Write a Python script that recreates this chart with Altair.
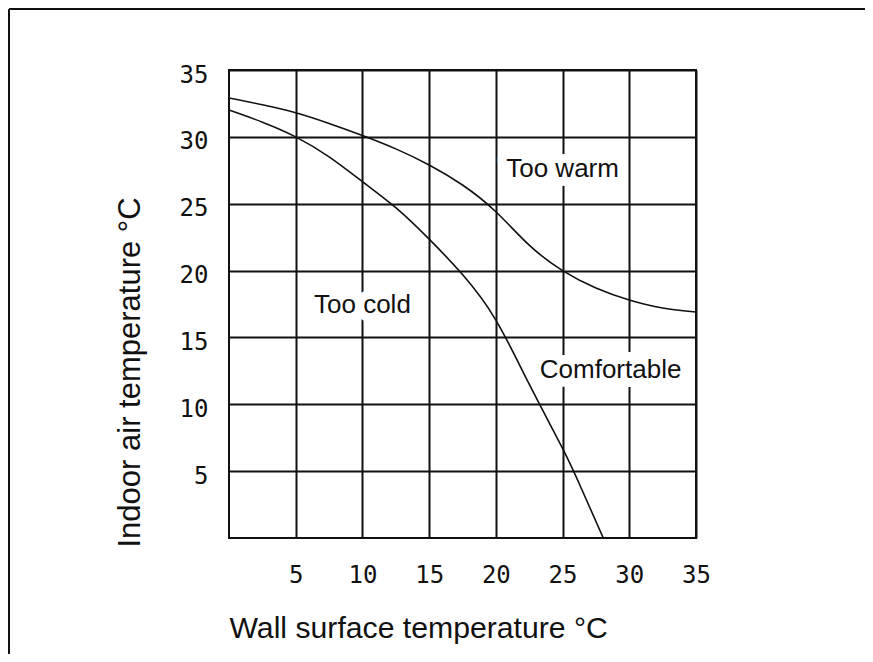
import altair as alt
import pandas as pd

# Boundary curves
wall_upper = [0, 2.5, 5, 7.5, 10, 12.5, 15, 17.5, 20, 22.5, 25, 27.5, 30, 32.5, 35]
air_upper = [32.9, 32.4, 31.8, 31.0, 30.1, 29.1, 27.9, 26.4, 24.4, 21.9, 20.0, 18.7, 17.8, 17.2, 16.9]

wall_lower = [0, 2.5, 5, 7.5, 10, 12.5, 15, 17.5, 20, 22.5, 25, 26.5, 28.05]
air_lower = [32.0, 31.1, 30.0, 28.5, 26.65, 24.7, 22.35, 19.7, 16.3, 11.5, 6.7, 3.5, 0.0]

label_text = ["Too warm", "Too cold", "Comfortable"]
label_x = [25.0, 10.0, 28.6]
label_y = [27.6, 17.4, 12.6]

tick_values = [5, 10, 15, 20, 25, 30, 35]

W, H = 467, 468
PAD = {"left": 221, "top": 62, "right": 169, "bottom": 116}

df_curves = pd.concat([
    pd.DataFrame({"wall": wall_upper, "air": air_upper, "curve": "upper"}),
    pd.DataFrame({"wall": wall_lower, "air": air_lower, "curve": "lower"}),
])
df_labels = pd.DataFrame({"x": label_x, "y": label_y, "t": label_text})

xscale = alt.Scale(domain=[0, 35], nice=False, zero=False)
yscale = alt.Scale(domain=[0, 35], nice=False, zero=False)

x_axis = alt.Axis(
    values=tick_values, grid=True, gridColor="#111", gridWidth=2, gridOpacity=1,
    ticks=False, domain=False,
    labelFont="DejaVu Sans Mono", labelFontSize=24, labelColor="#111",
    labelBaseline="alphabetic", labelPadding=44, labelFlush=False,
    title="Wall surface temperature °C", titleFont="Liberation Sans",
    titleFontSize=30.2, titleFontWeight="normal", titleColor="#111",
    titleAnchor="start", titleAlign="left", titleX=0, titleY=99,
    titleBaseline="alphabetic",
)
y_axis = alt.Axis(
    values=tick_values, grid=True, gridColor="#111", gridWidth=2, gridOpacity=1,
    ticks=False, domain=False,
    labelFont="DejaVu Sans Mono", labelFontSize=24, labelColor="#111",
    labelPadding=21, labelOffset=5, labelFlush=False,
    title="Indoor air temperature °C", titleFont="Liberation Sans",
    titleFontSize=31, titleFontWeight="normal", titleColor="#111",
    titleAnchor="start", titleAlign="left", titleAngle=270,
    titleX=-90, titleY=477, titleBaseline="alphabetic",
)

lines = alt.Chart(df_curves).mark_line(
    color="#111", strokeWidth=1.6, interpolate="natural"
).encode(
    x=alt.X("wall:Q", scale=xscale, axis=x_axis),
    y=alt.Y("air:Q", scale=yscale, axis=y_axis),
    detail="curve:N",
)

halo = alt.Chart(df_labels).mark_text(
    font="Liberation Sans", fontSize=26, stroke="white", strokeWidth=18,
    strokeJoin="round", fill="white", align="center", baseline="middle",
).encode(x=alt.X("x:Q", scale=xscale), y=alt.Y("y:Q", scale=yscale), text="t:N")

labels = alt.Chart(df_labels).mark_text(
    font="Liberation Sans", fontSize=26, color="#111", align="center", baseline="middle",
).encode(x=alt.X("x:Q", scale=xscale), y=alt.Y("y:Q", scale=yscale), text="t:N")

frame_left = alt.Chart(df_labels).mark_rule(color="#111", strokeWidth=2).encode(
    x=alt.value(-220), y=alt.value(-61), y2=alt.value(H + PAD["bottom"])
)
frame_top = alt.Chart(df_labels).mark_rule(color="#111", strokeWidth=2).encode(
    y=alt.value(-61), x=alt.value(-220), x2=alt.value(W + PAD["right"])
)

chart = alt.layer(lines, halo, labels, frame_left, frame_top).properties(
    width=W, height=H, padding=PAD, autosize=alt.AutoSizeParams(type="none"),
    background="white",
).configure_view(stroke="#111", strokeWidth=2)

chart.save("out.html", embed_options={"renderer": "svg", "actions": False})
